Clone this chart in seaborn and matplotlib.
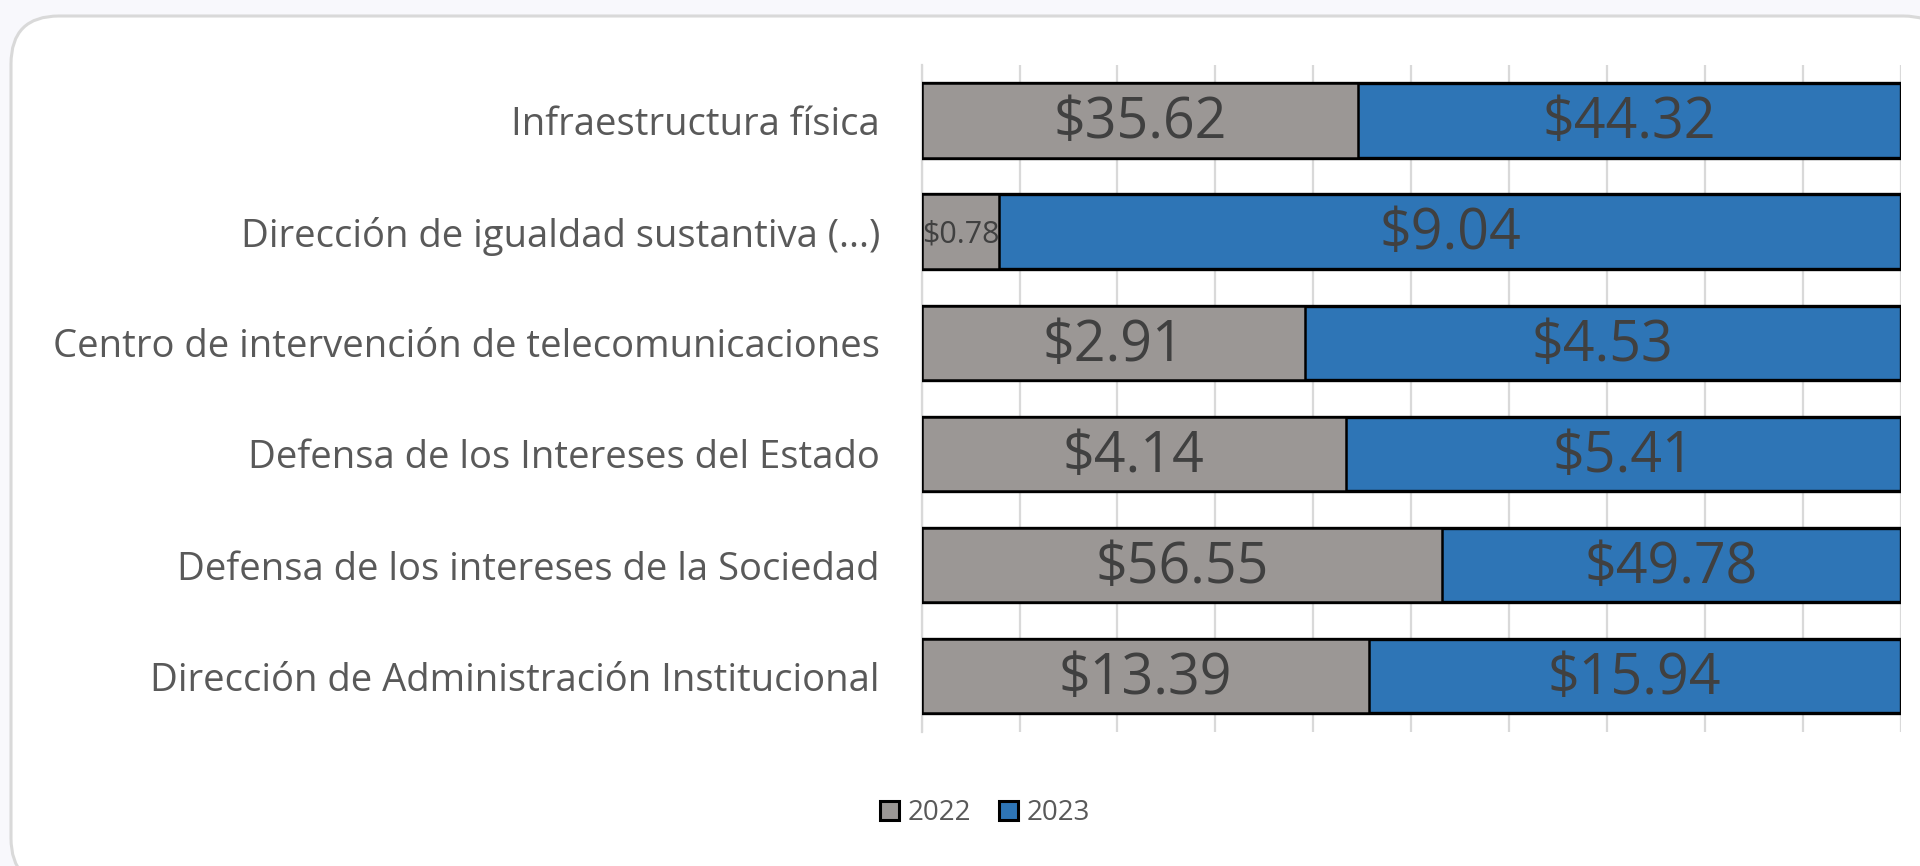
# Presupuesto por programa, 2022 vs 2023 (barras 100% apiladas)
import numpy as np
import pandas as pd
import matplotlib
matplotlib.use('Agg')
import matplotlib.pyplot as plt
from matplotlib.patches import FancyBboxPatch, Patch
import seaborn as sns

# -----------------------------------------------
# DATA
# -----------------------------------------------
categorias = [
    'Infraestructura física',
    'Dirección de igualdad sustantiva (...)',
    'Centro de intervención de telecomunicaciones',
    'Defensa de los Intereses del Estado',
    'Defensa de los intereses de la Sociedad',
    'Dirección de Administración Institucional',
]
valores_2022 = [35.62, 0.78, 2.91, 4.14, 56.55, 13.39]
valores_2023 = [44.32, 9.04, 4.53, 5.41, 49.78, 15.94]
series = ['2022', '2023']

df = pd.DataFrame({'categoria': categorias,
                   'v2022': valores_2022,
                   'v2023': valores_2023})
df['total'] = df['v2022'] + df['v2023']
df['p2022'] = df['v2022'] / df['total']
df['p2023'] = df['v2023'] / df['total']
df['acum'] = df['p2022'] + df['p2023']

# -----------------------------------------------
# STYLE
# -----------------------------------------------
sns.set_theme(style='white')
plt.rcParams['font.family'] = ['Open Sans', 'DejaVu Sans']

gris = '#9b9795'
azul = '#2e75b6'
txt_lbl = '#595959'
txt_val = '#404040'

fig = plt.figure(figsize=(19.2, 8.66), dpi=100)
fig.patch.set_facecolor('#f8f8fc')

# rounded white card behind the chart
card = FancyBboxPatch((11, -20), 1940, 870,
                      boxstyle='round,pad=0,rounding_size=48',
                      transform=None, facecolor='white',
                      edgecolor='#d9d9d9', linewidth=2.2, zorder=-10)
fig.patches.append(card)

ax = fig.add_axes([0.480, 0.155, 0.510, 0.770])
ax.set_facecolor('none')

# full bar (2023 on top of 2022) then 2022 segment
sns.barplot(data=df, x='acum', y='categoria', color=azul, orient='h',
            width=0.67, edgecolor='black', linewidth=2.4, ax=ax,
            saturation=1, zorder=3)
sns.barplot(data=df, x='p2022', y='categoria', color=gris, orient='h',
            width=0.67, edgecolor='black', linewidth=1.8, ax=ax,
            saturation=1, zorder=4)

# value labels
for i, row in df.iterrows():
    fs_small = row['p2022'] < 0.15
    ax.text(row['p2022'] / 2, i + 0.03, f"${row['v2022']:.2f}",
            ha='center', va='center', color=txt_val,
            fontsize=22 if fs_small else 40, zorder=5)
    ax.text(row['p2022'] + row['p2023'] / 2, i + 0.03, f"${row['v2023']:.2f}",
            ha='center', va='center', color=txt_val, fontsize=40, zorder=5)

ax.set_xlim(0, 1)
ax.set_ylim(5.5, -0.5)
ax.set_xticks(np.arange(0, 1.01, 0.1))
ax.set_xticklabels([])
ax.grid(axis='x', color='#d9d9d9', linewidth=1.6, zorder=0)
ax.grid(axis='y', visible=False)
for s in ['top', 'right', 'bottom']:
    ax.spines[s].set_visible(False)
ax.spines['left'].set_color('#d9d9d9')
ax.spines['left'].set_linewidth(1.6)
ax.set_xlabel('')
ax.set_ylabel('')
ax.tick_params(axis='y', length=0, pad=30, labelsize=27.5, labelcolor=txt_lbl)
ax.tick_params(axis='x', length=0)

# legend
handles = [Patch(facecolor=gris, edgecolor='black', linewidth=2.2),
           Patch(facecolor=azul, edgecolor='black', linewidth=2.2)]
fig.legend(handles, series, loc='center', bbox_to_anchor=(0.513, 0.061),
           ncol=2, frameon=False, fontsize=20, labelcolor=txt_lbl,
           handlelength=0.7, handleheight=0.7, handletextpad=0.3,
           columnspacing=1.0)

fig.savefig('out.png', dpi=100, facecolor=fig.get_facecolor())
